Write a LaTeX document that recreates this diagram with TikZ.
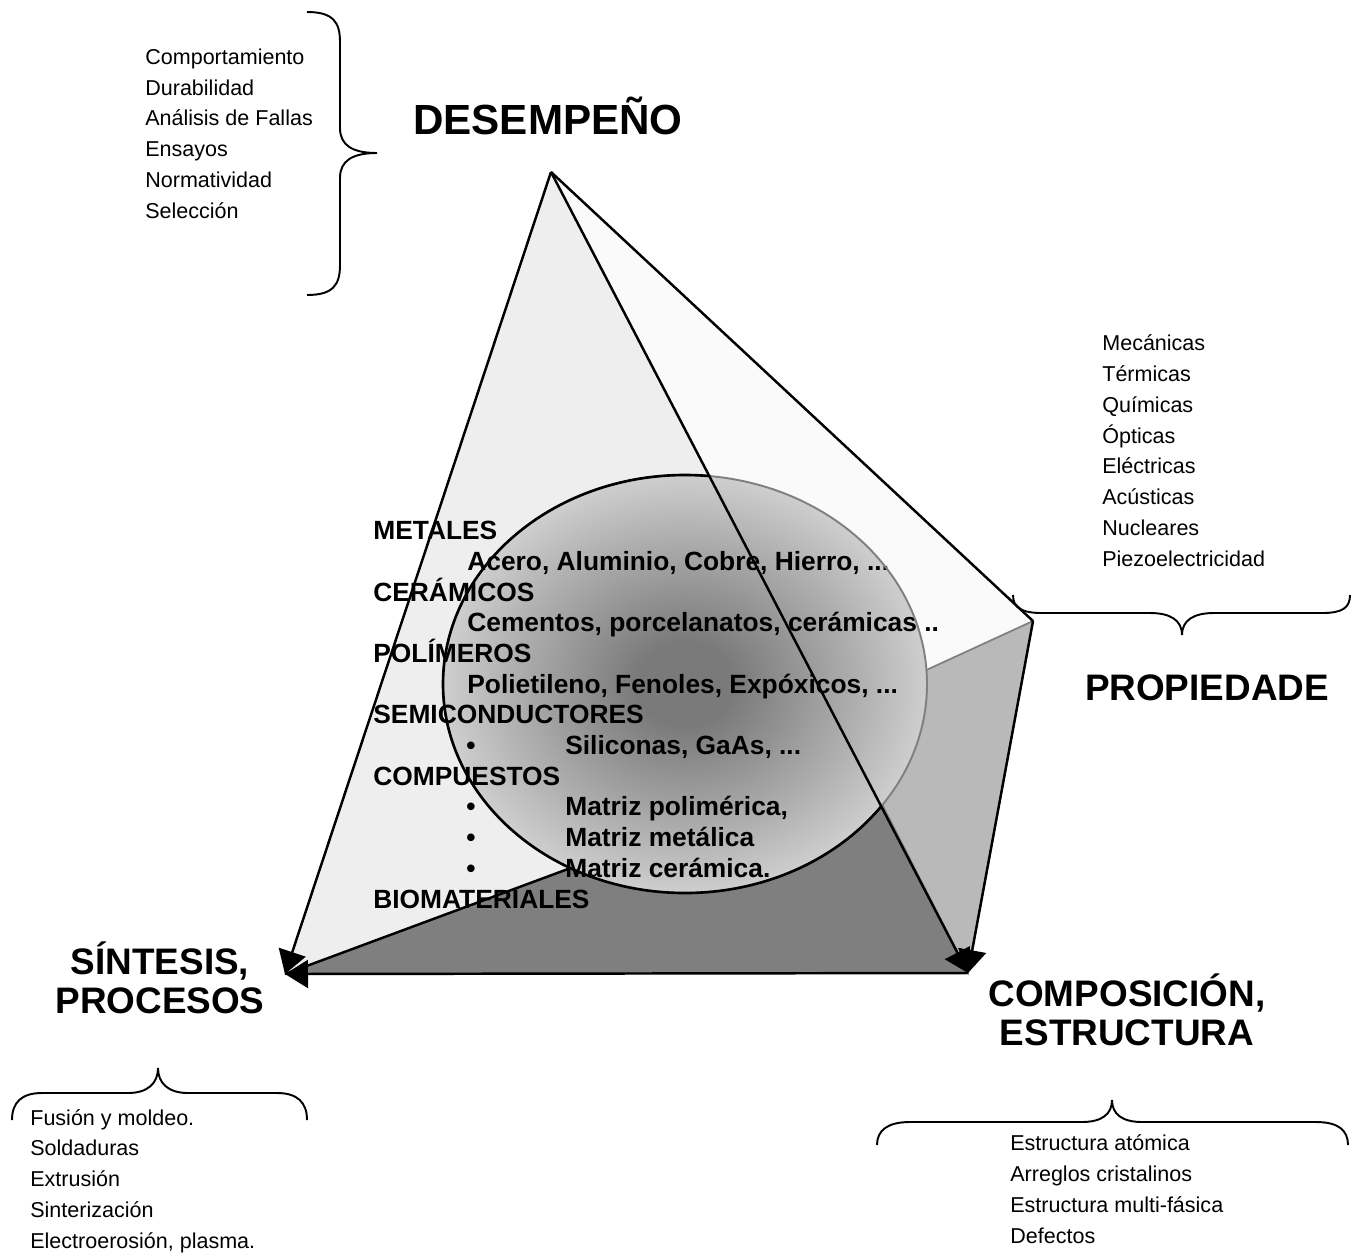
\documentclass[tikz,border=0pt]{standalone}
\usepackage{fontspec}
\setmainfont{Liberation Sans}
\usetikzlibrary{arrows.meta}
\definecolor{faceLeft}{RGB}{238,238,238}
\definecolor{faceRight}{RGB}{250,250,250}
\definecolor{faceBottom}{RGB}{127,127,127}
\definecolor{faceSide}{RGB}{185,185,185}
\definecolor{coreDark}{RGB}{122,122,122}
\definecolor{coreMid}{RGB}{176,176,176}
\definecolor{coreLight}{RGB}{232,232,232}
\definecolor{coreEdge}{RGB}{246,246,246}
\pgfdeclareradialshading{matcore}{\pgfpoint{0bp}{0bp}}{color(0bp)=(coreDark); color(5bp)=(coreDark); color(18bp)=(coreMid); color(31bp)=(coreLight); color(42bp)=(coreEdge); color(50bp)=(coreEdge)}
\newcommand{\matbullet}{\hspace*{1.86cm}\makebox[1.98cm][l]{•}}
\newcommand{\matindent}{\hspace*{1.88cm}}

\begin{document}
\begin{tikzpicture}[x=0.02cm, y=-0.02cm]
    % Define styles
    \tikzstyle{ridge} = [line width=1.4pt, line join=round]
    \tikzstyle{arrowridge} = [ridge, -{Triangle[length=0.46cm, width=0.56cm]}]
    \tikzstyle{bracket} = [line width=1.1pt]
    \tikzstyle{vertexlabel} = [font=\bfseries\fontsize{21}{22}\selectfont, align=center, anchor=base, inner sep=0pt]
    \tikzstyle{itemlist} = [font=\fontsize{12.25}{17.5}\selectfont, align=left, anchor=base west, inner sep=0pt]
    \tikzstyle{matlist} = [font=\bfseries\fontsize{15}{17.46}\selectfont, align=left, anchor=base west, inner sep=0pt]

    \useasboundingbox (0,0) rectangle (1359,1255);

    % Vertices of the pyramid
    \coordinate (apex) at (551,172);
    \coordinate (sint) at (285,974);
    \coordinate (comp) at (968,973);
    \coordinate (prop) at (1033,621);
    \coordinate (hidL) at (700,820);
    \coordinate (hidR) at (835,712);

    % Faces
    \fill[faceLeft] (apex) -- (sint) -- (comp) -- cycle;
    \fill[faceRight] (apex) -- (comp) -- (prop) -- cycle;
    \fill[faceBottom] (sint) -- (hidL) -- (hidR) -- (comp) -- cycle;
    \filldraw[fill=faceSide, draw=gray, line width=1pt] (hidR) -- (prop) -- (comp) -- cycle;
    \draw[ridge] (sint) -- (hidL);

    % Core of materials
    \shade[shading=matcore] (685,684) ellipse [x radius=242, y radius=209];

    % multi-line nodes sit on the baseline of their last line
    \node[matlist] (materiales) at (373,908) {METALES\\
        \matindent Acero, Aluminio, Cobre, Hierro, ...\\
        CERÁMICOS\\
        \matindent Cementos, porcelanatos, cerámicas ..\\
        POLÍMEROS\\
        \matindent Polietileno, Fenoles, Expóxicos, ...\\
        SEMICONDUCTORES\\
        \matbullet Siliconas, GaAs, ...\\
        COMPUESTOS\\
        \matbullet Matriz polimérica,\\
        \matbullet Matriz metálica\\
        \matbullet Matriz cerámica.\\
        BIOMATERIALES};

    \draw[gray, line width=1.1pt] (685,684) ellipse [x radius=242, y radius=209];
    \begin{scope}
        \clip (apex) -- (sint) -- (comp) -- cycle;
        \draw[line width=1.5pt] (685,684) ellipse [x radius=242, y radius=209];
    \end{scope}

    % Edges
    \draw[ridge] (apex) -- (prop);
    \draw[arrowridge] (apex) -- (sint);
    \draw[arrowridge] (comp) -- (sint);
    \draw[arrowridge] (apex) -- (comp);
    \draw[arrowridge] (prop) -- (comp);

    % Corner labels
    \node[vertexlabel, font=\bfseries\fontsize{24}{24}\selectfont] (desempeno) at (548,134) {DESEMPEÑO};
    \node[vertexlabel] (propiedade) at (1207,700) {PROPIEDADE};
    \node[vertexlabel] (sintesis) at (160,1013) {SÍNTESIS,\\PROCESOS};
    \node[vertexlabel] (composicion) at (1127,1045) {COMPOSICIÓN,\\ESTRUCTURA};

    % Lists
    \node[itemlist] (desempList) at (145,218) {Comportamiento\\Durabilidad\\Análisis de Fallas\\Ensayos\\Normatividad\\Selección};
    \node[itemlist] (propList) at (1102,566) {Mecánicas\\Térmicas\\Químicas\\Ópticas\\Eléctricas\\Acústicas\\Nucleares\\Piezoelectricidad};
    \node[itemlist] (sintList) at (30,1248) {Fusión y moldeo.\\Soldaduras\\Extrusión\\Sinterización\\Electroerosión, plasma.};
    \node[itemlist] (compList) at (1010,1243) {Estructura atómica\\Arreglos cristalinos\\Estructura multi-fásica\\Defectos};

    % Braces
    \draw[bracket] (307,12) .. controls (333,12) and (340,22) .. (340,42) -- (340,128)
        .. controls (340,145) and (352,153) .. (377,153)
        .. controls (352,153) and (340,161) .. (340,178) -- (340,265)
        .. controls (340,285) and (333,295) .. (307,295);
    \draw[bracket] (1013,595) .. controls (1013,608) and (1022,613) .. (1042,613) -- (1150,613)
        .. controls (1170,613) and (1182,620) .. (1182,635)
        .. controls (1182,620) and (1194,613) .. (1214,613) -- (1322,613)
        .. controls (1342,613) and (1350,608) .. (1350,595);
    \draw[bracket] (12,1120) .. controls (12,1102) and (22,1093) .. (42,1093) -- (128,1093)
        .. controls (148,1093) and (158,1083) .. (158,1068)
        .. controls (158,1083) and (168,1093) .. (188,1093) -- (277,1093)
        .. controls (297,1093) and (307,1102) .. (307,1120);
    \draw[bracket] (877,1145) .. controls (877,1130) and (888,1122) .. (910,1122) -- (1082,1122)
        .. controls (1102,1122) and (1112,1114) .. (1112,1100)
        .. controls (1112,1114) and (1122,1122) .. (1142,1122) -- (1316,1122)
        .. controls (1338,1122) and (1348,1130) .. (1348,1145);
\end{tikzpicture}
\end{document}
